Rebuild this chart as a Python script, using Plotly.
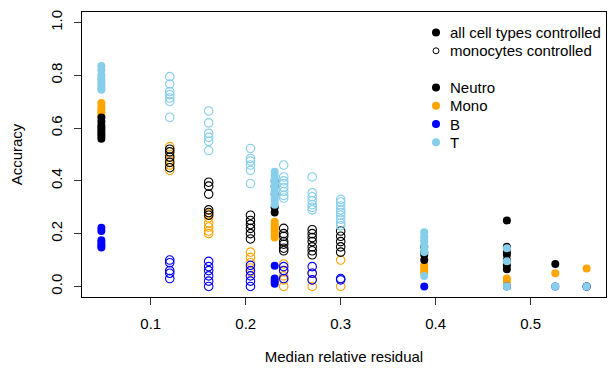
import plotly.graph_objects as go

# ---- data ----
resid = [0.048, 0.120, 0.161, 0.205, 0.2305, 0.240, 0.270, 0.300, 0.388, 0.475, 0.526, 0.559]
controlled = ["all", "mono", "mono", "mono", "all", "mono", "mono", "mono", "all", "all", "all", "all"]

neutro = [
    [0.64, 0.625, 0.61, 0.60, 0.59, 0.58, 0.57, 0.56],
    [0.52, 0.51, 0.49, 0.47, 0.45],
    [0.395, 0.38, 0.35, 0.29, 0.28, 0.27],
    [0.27, 0.25, 0.235, 0.22, 0.20, 0.18],
    [0.40, 0.38, 0.35, 0.30, 0.28],
    [0.22, 0.20, 0.19, 0.17, 0.16, 0.145, 0.135],
    [0.215, 0.20, 0.185, 0.17, 0.15, 0.135, 0.12],
    [0.21, 0.19, 0.17, 0.15, 0.13],
    [0.15, 0.13, 0.12, 0.10],
    [0.25, 0.15, 0.13, 0.12, 0.10, 0.08, 0.065],
    [0.085],
    [0.0],
]
mono = [
    [0.695, 0.68, 0.67, 0.66, 0.65],
    [0.53, 0.50, 0.48, 0.46, 0.44],
    [0.275, 0.26, 0.24, 0.225, 0.21, 0.20],
    [0.13, 0.11, 0.09, 0.07, 0.055],
    [0.245, 0.235, 0.225, 0.215, 0.205, 0.195, 0.185],
    [0.085, 0.06, 0.04, 0.025, 0.0],
    [0.05, 0.025, 0.0],
    [0.10, 0.0],
    [0.08, 0.07, 0.06, 0.05],
    [0.03, 0.02],
    [0.05],
    [0.068],
]
bcell = [
    [0.222, 0.21, 0.175, 0.165, 0.155, 0.148],
    [0.10, 0.09, 0.06, 0.05, 0.03],
    [0.095, 0.075, 0.06, 0.04, 0.02, 0.0],
    [0.08, 0.06, 0.04, 0.02, 0.0],
    [0.078, 0.03, 0.02, 0.01],
    [0.075, 0.06, 0.03],
    [0.075, 0.05, 0.025],
    [0.03, 0.025],
    [0.0],
    [0.0],
    [0.0],
    [0.0],
]
tcell = [
    [0.835, 0.82, 0.80, 0.79, 0.78, 0.77, 0.76, 0.75, 0.745],
    [0.795, 0.767, 0.739, 0.727, 0.714, 0.701, 0.641],
    [0.665, 0.62, 0.58, 0.565, 0.55, 0.515],
    [0.523, 0.485, 0.475, 0.46, 0.44, 0.39],
    [0.435, 0.42, 0.41, 0.40, 0.39, 0.38, 0.37, 0.36, 0.35, 0.34, 0.33, 0.32, 0.31],
    [0.46, 0.415, 0.40, 0.39, 0.375, 0.36, 0.345, 0.335],
    [0.415, 0.355, 0.34, 0.325, 0.31, 0.30, 0.29],
    [0.33, 0.32, 0.305, 0.29, 0.28, 0.27, 0.255, 0.24, 0.23],
    [0.205, 0.19, 0.18, 0.17, 0.155, 0.14, 0.13, 0.04],
    [0.145, 0.095, 0.0],
    [0.0],
    [0.0],
]

cell_types = ["Neutro", "Mono", "B", "T"]
cell_colors = {"Neutro": "#000000", "Mono": "#FFA500", "B": "#0000FF", "T": "#87CEEB"}
cell_values = {"Neutro": neutro, "Mono": mono, "B": bcell, "T": tcell}
draw_order = ["Mono", "Neutro", "B", "T"]

x_ticks = [0.1, 0.2, 0.3, 0.4, 0.5]
y_ticks = [0.0, 0.2, 0.4, 0.6, 0.8, 1.0]

legend_ctrl = [("all cell types controlled", "filled"), ("monocytes controlled", "open")]

FONT = "Liberation Sans, Arial, Helvetica, sans-serif"
FS = 15

fig = go.Figure()

for ct in draw_order:
    vals = cell_values[ct]
    col = cell_colors[ct]
    for kind in ["all", "mono"]:
        xs, ys = [], []
        for i, m in enumerate(vals):
            if controlled[i] != kind:
                continue
            for v in m:
                xs.append(resid[i])
                ys.append(v)
        if kind == "all":
            marker = dict(symbol="circle", size=8, color=col, line=dict(width=0))
        else:
            marker = dict(symbol="circle-open", size=8.5, color=col, line=dict(width=1.1, color=col))
        fig.add_trace(go.Scatter(x=xs, y=ys, mode="markers", marker=marker,
                                 showlegend=False, name=ct, hoverinfo="x+y"))

# ---- legend (R style, top-right, no box) ----
L, R_, T_, B_ = 82, 606, 12, 297
W, H = R_ - L, B_ - T_
def px(x):
    return (x - L) / W
def py(y):
    return (B_ - y) / H

rows = [(legend_ctrl[0][0], "#000000", "filled"),
        (legend_ctrl[1][0], "#000000", "open"),
        None] + [(ct, cell_colors[ct], "filled") for ct in cell_types]
row_y0, row_dy = 32.5, 18.3
text_x, mark_x = 448, 436
shapes = []
annotations = []
for k, row in enumerate(rows):
    if row is None:
        continue
    label, col, kind = row
    yc = row_y0 + k * row_dy
    annotations.append(dict(text=label, x=px(text_x), y=py(yc), xref="paper", yref="paper",
                            xanchor="left", yanchor="middle", showarrow=False,
                            font=dict(family=FONT, size=FS, color="black")))
    r = 4 if kind == "filled" else 3
    shapes.append(dict(type="circle", xref="paper", yref="paper",
                       xsizemode="pixel", ysizemode="pixel",
                       xanchor=px(mark_x), yanchor=py(yc),
                       x0=-r, x1=r, y0=-r, y1=r,
                       fillcolor=col if kind == "filled" else "rgba(0,0,0,0)",
                       line=dict(color=col, width=0 if kind == "filled" else 1)))

fig.update_layout(
    width=608, height=369,
    margin=dict(l=L, r=608 - R_, t=T_, b=369 - B_),
    paper_bgcolor="white", plot_bgcolor="white",
    font=dict(family=FONT, size=FS, color="black"),
    shapes=shapes, annotations=annotations,
    showlegend=False,
)
fig.update_xaxes(
    range=[0.0276, 0.5794], tickvals=x_ticks, ticktext=[f"{v:.1f}" for v in x_ticks],
    showgrid=False, zeroline=False, showline=True, linecolor="black", linewidth=1, mirror=True,
    ticks="outside", ticklen=7, tickcolor="#333", tickwidth=1, ticklabelstandoff=6,
    title=dict(text="Median relative residual", font=dict(size=FS), standoff=20),
    tickfont=dict(size=FS),
)
fig.update_yaxes(
    range=[-0.04, 1.04], tickvals=y_ticks, ticktext=[f"{v:.1f}" for v in y_ticks],
    showgrid=False, zeroline=False, showline=True, linecolor="black", linewidth=1, mirror=True,
    ticks="outside", ticklen=7, tickcolor="#333", tickwidth=1, tickangle=-90, ticklabelstandoff=6,
    title=dict(text="Accuracy", font=dict(size=FS), standoff=21),
    tickfont=dict(size=FS),
)

fig.write_html("out.html", config={"displayModeBar": False},
               post_script="document.body.style.margin='0';")
